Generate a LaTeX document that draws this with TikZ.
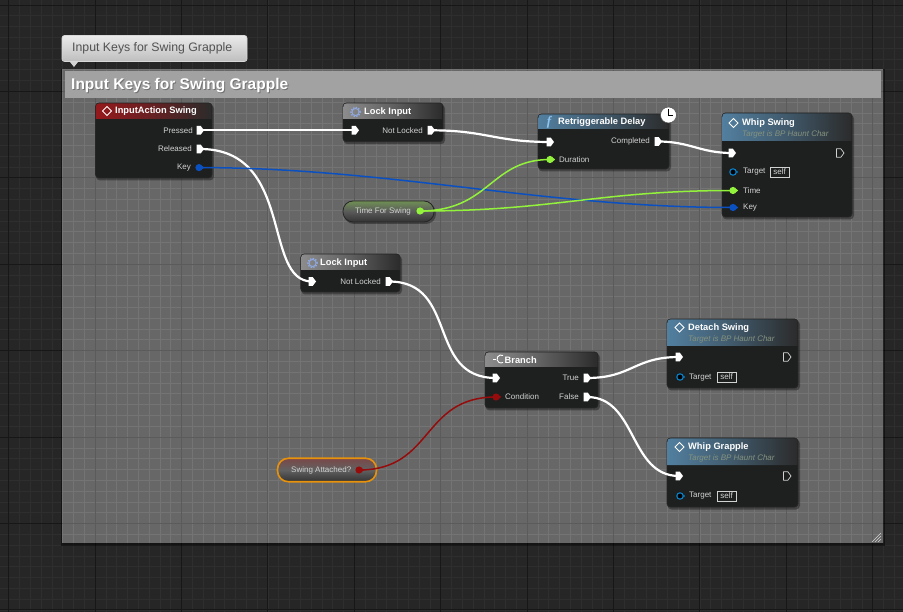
\documentclass[tikz,border=0pt]{standalone}
\usepackage{fontspec}
\setmainfont{Liberation Sans}
\usetikzlibrary{arrows.meta,shapes.geometric,calc}
\definecolor{bgdark}{HTML}{262626}
\definecolor{bgminor}{HTML}{2E2E2E}
\definecolor{bgmajor}{HTML}{171717}
\definecolor{cbody}{HTML}{676767}
\definecolor{cminor}{HTML}{747474}
\definecolor{cmajor}{HTML}{5B5B5B}
\definecolor{nodebody}{HTML}{1E201F}
\definecolor{hdred}{HTML}{95191C}
\definecolor{hdblue}{HTML}{527F9F}
\definecolor{hdgray}{HTML}{8C8C8C}
\definecolor{hdend}{HTML}{2B2B2B}
\definecolor{wgreen}{HTML}{93F23C}
\definecolor{wblue}{HTML}{0B50C0}
\definecolor{wred}{HTML}{960C0C}
\definecolor{ringblue}{HTML}{0A80C8}
\definecolor{txt}{HTML}{D2D2D2}
\definecolor{HdSub}{HTML}{86937F}
\definecolor{HdGear}{HTML}{8FA8E0}
\definecolor{HdBar}{HTML}{A2A2A2}
\definecolor{BubFill}{HTML}{D3D3D3}
\definecolor{HdVarG}{HTML}{6F8F55}
\definecolor{HdOrange}{HTML}{E8920C}
\definecolor{HdVarR}{HTML}{7A4848}
\definecolor{HdFn}{HTML}{8FC4F0}
\tikzset{
  bpbox/.style={draw=black!85,line width=.8pt,fill=nodebody,rounded corners=3.5pt,inner sep=0,outer sep=0},
  lab/.style={inner sep=0,text=txt,font=\fontsize{8}{9}\selectfont},
  ttl/.style={inner sep=0,text=white,font=\fontsize{9.3}{10}\bfseries\selectfont,anchor=west},
  sub/.style={inner sep=0,text=HdSub,font=\fontsize{8}{9}\itshape\selectfont,anchor=west},
  wirew/.style={white,line width=2.2pt},
  wireg/.style={wgreen,line width=1.5pt},
  wireb/.style={wblue,line width=1.5pt},
  wirer/.style={wred,line width=1.5pt},
}
% name x1 y1 x2 y2 yheader colour
\newcommand{\bpnode}[7]{%
  \fill[black,opacity=.35,rounded corners=4pt] (#2+.5,#3+1.5) rectangle (#4+2,#5+2.5);
  \pgfmathsetmacro{\cxx}{(#2+#4)/2}\pgfmathsetmacro{\cyy}{(#3+#5)/2}%
  \pgfmathsetmacro{\ww}{#4-#2}\pgfmathsetmacro{\hh}{#5-#3}%
  \node[bpbox,minimum width=\ww pt,minimum height=\hh pt] (#1) at (\cxx,\cyy) {};
  \shade[left color=#7,right color=hdend,middle color=#7!55!hdend]
    (#2+.4,#6) -- (#2+.4,#3+3.5) arc[start angle=180,end angle=90,radius=3.1pt] -- (#4-3.5,#3+.4) arc[start angle=90,end angle=0,radius=3.1pt] -- (#4-.4,#6) -- cycle;
}
\newcommand{\execpin}[1]{\fill[white] ($(#1)+(-3.5,-4.3)$) -- ($(#1)+(.8,-4.3)$) -- ($(#1)+(4,0)$) -- ($(#1)+(.8,4.3)$) -- ($(#1)+(-3.5,4.3)$) -- cycle;}
\newcommand{\execout}[1]{\draw[txt,line width=.7pt,line join=round] ($(#1)+(-3.5,-4.3)$) -- ($(#1)+(.8,-4.3)$) -- ($(#1)+(4,0)$) -- ($(#1)+(.8,4.3)$) -- ($(#1)+(-3.5,4.3)$) -- cycle;}
\newcommand{\datapin}[2]{\fill[#2] (#1) circle[radius=3.6pt]; \fill[#2] ($(#1)+(3.2,-1.6)$) -- ($(#1)+(5.2,0)$) -- ($(#1)+(3.2,1.6)$) -- cycle;}
\newcommand{\ringpin}[1]{\fill[black] (#1) circle[radius=3pt]; \draw[ringblue,line width=1.1pt] (#1) circle[radius=3.2pt]; \fill[ringblue] ($(#1)+(3.4,-1.4)$) -- ($(#1)+(5.2,0)$) -- ($(#1)+(3.4,1.4)$) -- cycle;}
\newcommand{\evicon}[2]{\draw[white,line width=.9pt] (#1,#2-4.4) -- (#1+4.4,#2) -- (#1,#2+4.4) -- (#1-4.4,#2) -- cycle;}
\newcommand{\gearicon}[2]{\draw[HdGear,line width=1pt] (#1,#2) circle[radius=3.6pt]; \draw[HdGear,line width=1.3pt,dash pattern=on 1.4pt off 1.4pt] (#1,#2) circle[radius=4.7pt];}
\newcommand{\selfbox}[3]{\node[draw=txt,line width=.6pt,inner sep=0,minimum width=19pt,minimum height=10pt,text=txt,font=\fontsize{8}{9}\selectfont] (#1) at (#2,#3) {self};}
\begin{document}
\begin{tikzpicture}[x=1pt,y=-1pt]
\useasboundingbox (0,0) rectangle (903,612);
% canvas
\fill[bgdark] (0,0) rectangle (903,612);
\foreach \i in {0,...,83} {\draw[bgminor,line width=.6pt] (8.6+\i*10.8,0) -- (8.6+\i*10.8,612);}
\foreach \i in {0,...,56} {\draw[bgminor,line width=.6pt] (0,5+\i*10.8) -- (903,5+\i*10.8);}
\foreach \i in {0,...,10} {\draw[bgmajor,line width=.9pt] (8.6+\i*86.4,0) -- (8.6+\i*86.4,612);}
\foreach \i in {0,...,7} {\draw[bgmajor,line width=.9pt] (0,5+\i*86.4) -- (903,5+\i*86.4);}
% comment box
\fill[black,opacity=.45] (61,69) rectangle (885,546);
\node[fill=cbody,draw=none,inner sep=0,minimum width=821pt,minimum height=473pt] (comment) at (472.5,306.5) {};
\begin{scope}
\clip (62,70) rectangle (883,543);
\foreach \i in {5,...,81} {\draw[cminor,line width=.6pt] (8.6+\i*10.8,70) -- (8.6+\i*10.8,543);}
\foreach \i in {6,...,50} {\draw[cminor,line width=.6pt] (62,5+\i*10.8) -- (883,5+\i*10.8);}
\foreach \i in {1,...,10} {\draw[cmajor,line width=.9pt] (8.6+\i*86.4,70) -- (8.6+\i*86.4,543);}
\foreach \i in {1,...,6} {\draw[cmajor,line width=.9pt] (62,5+\i*86.4) -- (883,5+\i*86.4);}
\end{scope}
\fill[HdBar] (65,71) rectangle (881,98);
\node[inner sep=0,anchor=west,text=black!55,font=\fontsize{15.5}{17}\bfseries\selectfont] at (72,87) {Input Keys for Swing Grapple};
\node[inner sep=0,anchor=west,text=white,font=\fontsize{15.5}{17}\bfseries\selectfont] (commenttitle) at (71,86) {Input Keys for Swing Grapple};
\foreach \k in {3,6,9} {\draw[txt,line width=.6pt] (881-\k,542) -- (881,542-\k);}
% bubble
\fill[BubFill] (70,62) -- (74,67) -- (78,62) -- cycle;
\node[draw=white!85!black,line width=.6pt,top color=white!92!black,bottom color=BubFill!90!black,rounded corners=2.5pt,inner sep=0,minimum width=185pt,minimum height=26pt] (bubble) at (154.5,48.5) {};
\node[inner sep=0,anchor=west,text=black!68,font=\fontsize{12.3}{14}\selectfont] (bubbletext) at (72,48.5) {Input Keys for Swing Grapple};
% pin locations
\coordinate (iaPressed) at (200,130.3);
\coordinate (iaReleased) at (200,149);
\coordinate (iaKey) at (199,167.6);
\coordinate (l1in) at (355,130.3);
\coordinate (l1out) at (431,130.3);
\coordinate (rdin) at (550,142);
\coordinate (rdout) at (658,141.5);
\coordinate (rddur) at (550,159.5);
\coordinate (wsin) at (732,153);
\coordinate (wsout) at (840,153);
\coordinate (wstar) at (733,172);
\coordinate (wstime) at (733,190.5);
\coordinate (wskey) at (733,207.5);
\coordinate (tfs) at (420,211);
\coordinate (l2in) at (312,281.5);
\coordinate (l2out) at (389,281.5);
\coordinate (brin) at (496,378);
\coordinate (brtrue) at (587,378);
\coordinate (brfalse) at (587,397);
\coordinate (brcond) at (496,397);
\coordinate (swa) at (359,470);
\coordinate (dsin) at (679,357);
\coordinate (dsout) at (787,357);
\coordinate (dstar) at (680,377);
\coordinate (wgin) at (679,476);
\coordinate (wgout) at (787,476);
\coordinate (wgtar) at (680,496);
% nodes
\bpnode{ia}{95.5}{103}{212}{178}{119}{hdred}
\bpnode{lockA}{343}{103}{443}{141.7}{119}{hdgray}
\bpnode{delay}{538}{114}{669}{169}{129}{hdblue}
\bpnode{whipswing}{722}{113}{852}{217}{141}{hdblue}
\bpnode{lockB}{300.7}{254}{400}{292}{270}{hdgray}
\bpnode{branch}{485}{352}{598}{408}{367}{hdgray}
\bpnode{detach}{667}{319}{798}{388}{346}{hdblue}
\bpnode{whipgrapple}{667}{438}{798}{507}{465}{hdblue}
% variable getters
\fill[black,opacity=.35,rounded corners=10pt] (344,203) rectangle (436,224);
\node[draw=black!85,line width=.8pt,rounded corners=10pt,inner sep=0,minimum width=91pt,minimum height=21pt,top color=HdVarG,bottom color=black!80!white,middle color=black!65!white] (timevar) at (388.5,211.5) {};
\node[draw=HdOrange,line width=1.6pt,rounded corners=11pt,inner sep=0,minimum width=99pt,minimum height=23.5pt,top color=HdVarR,bottom color=black!80!white,middle color=black!62!white] (swingvar) at (327,470) {};
% wires
\draw[wirew] (iaPressed) -- (l1in);
\draw[wirew] (l1out) .. controls +(55,0) and +(-55,0) .. (rdin);
\draw[wirew] (rdout) .. controls +(32,0) and +(-32,0) .. (wsin);
\draw[wirew] (iaReleased) .. controls +(95,0) and +(-50,0) .. (l2in);
\draw[wirew] (l2out) .. controls +(70,0) and +(-70,0) .. (brin);
\draw[wirew] (brtrue) .. controls +(45,0) and +(-45,0) .. (dsin);
\draw[wirew] (brfalse) .. controls +(50,0) and +(-50,0) .. (wgin);
\draw[wireb] (iaKey) .. controls +(190,0) and +(-190,0) .. (wskey);
\draw[wireg] (tfs) .. controls +(70,0) and +(-60,0) .. (rddur);
\draw[wireg] (tfs) .. controls +(135,0) and +(-135,0) .. (wstime);
\draw[wirer] (swa) .. controls +(75,0) and +(-75,0) .. (brcond);
% pins
\foreach \p in {iaPressed,iaReleased,l1in,l1out,rdin,rdout,wsin,l2in,l2out,brin,brtrue,brfalse,dsin,wgin} {\execpin{\p}}
\foreach \p in {wsout,dsout,wgout} {\execout{\p}}
\datapin{iaKey}{wblue}
\datapin{wskey}{wblue}
\datapin{rddur}{wgreen}
\datapin{wstime}{wgreen}
\datapin{tfs}{wgreen}
\datapin{brcond}{wred}
\datapin{swa}{wred}
\ringpin{wstar}
\ringpin{dstar}
\ringpin{wgtar}
% icons and titles
\evicon{107}{111}
\node[ttl] (t1) at (115,111) {InputAction Swing};
\gearicon{355.5}{112}
\node[ttl] (t2) at (364,112) {Lock Input};
\node[inner sep=0,text=HdFn,font=\fontsize{13}{14}\itshape\bfseries\selectfont] (ficon) at (549,122) {\fontspec{Liberation Serif}f};
\node[ttl] (t3) at (558,122.5) {Retriggerable Delay};
\evicon{733.5}{123}
\node[ttl] (t4) at (742,123) {Whip Swing};
\node[sub] (s4) at (742,134) {Target is BP Haunt Char};
\gearicon{312.5}{263}
\node[ttl] (t5) at (320,263) {Lock Input};
\draw[white,line width=.9pt] (503,355.5) arc[start angle=60,end angle=300,radius=4pt];
\draw[white,line width=.7pt] (493,359.5) -- (495.5,359.5);
\node[ttl] (t6) at (504.5,360) {Branch};
\evicon{679.5}{327.5}
\node[ttl] (t7) at (688,328) {Detach Swing};
\node[sub] (s7) at (688,339.5) {Target is BP Haunt Char};
\evicon{679.5}{447}
\node[ttl] (t8) at (688,447) {Whip Grapple};
\node[sub] (s8) at (688,458.5) {Target is BP Haunt Char};
% clock
\node[circle,fill=white,draw=black!70,line width=.5pt,inner sep=0,minimum size=16pt] (clock) at (668.5,115) {};
\draw[black,line width=.8pt] (668.5,109.5) -- (clock.center) -- (673,115);
% labels
\node[lab,anchor=east] (a1) at (193,130.3) {Pressed};
\node[lab,anchor=east] (a2) at (192,149) {Released};
\node[lab,anchor=east] (a3) at (191,167.6) {Key};
\node[lab,anchor=east] (a4) at (423,130.3) {Not Locked};
\node[lab,anchor=east] (a5) at (650,141.5) {Completed};
\node[lab,anchor=west] (a6) at (559,159.5) {Duration};
\node[lab,anchor=west] (a7) at (743,171.8) {Target};
\selfbox{b1}{779.5}{172}
\node[lab,anchor=west] (a8) at (743,190.5) {Time};
\node[lab,anchor=west] (a9) at (743,207.5) {Key};
\node[lab,anchor=west] (a10) at (355,211.5) {Time For Swing};
\node[lab,anchor=east] (a11) at (381,281.5) {Not Locked};
\node[lab,anchor=east] (a12) at (579,378) {True};
\node[lab,anchor=east] (a13) at (579,397) {False};
\node[lab,anchor=west] (a14) at (505,396.5) {Condition};
\node[lab,anchor=west] (a15) at (291,470) {Swing Attached?};
\node[lab,anchor=west] (a16) at (689,377.5) {Target};
\selfbox{b2}{726.5}{377}
\node[lab,anchor=west] (a17) at (689,496) {Target};
\selfbox{b3}{726.5}{496}
\end{tikzpicture}
\end{document}
